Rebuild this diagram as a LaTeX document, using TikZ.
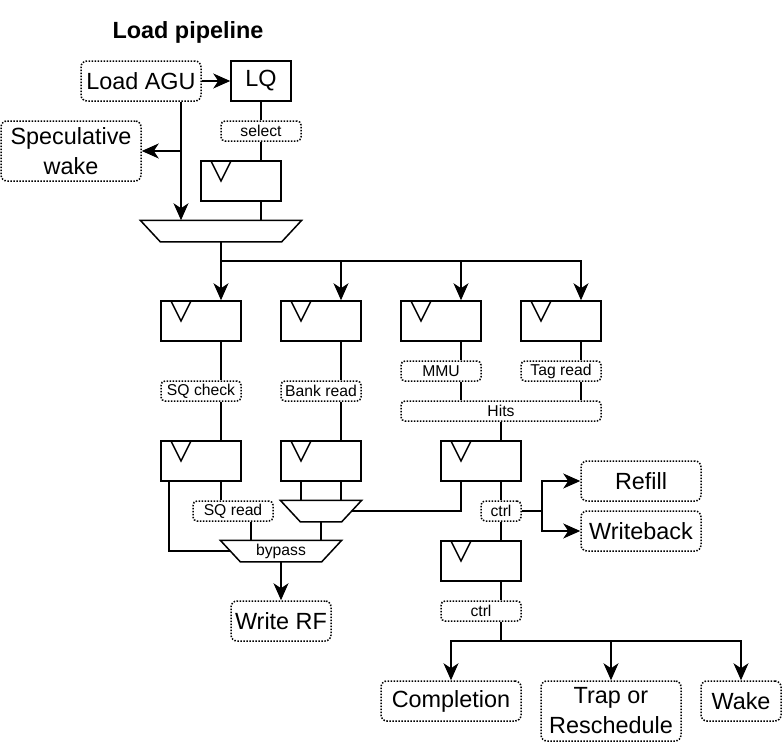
\documentclass[tikz,border=0pt]{standalone}
\usepackage{fontspec}
\setmainfont{Liberation Sans}
\usetikzlibrary{arrows.meta}
\newcommand{\bigtxt}{\fontsize{23.4}{30}\selectfont}
\newcommand{\smalltxt}{\fontsize{15.7}{18}\selectfont}
\begin{document}
\begin{tikzpicture}[
	x=1pt, y=-1pt, line width=1.5pt,
	reg/.style={ draw, inner sep=0pt, minimum width=80, minimum height=40,
		path picture={\draw ([xshift=10pt]path picture bounding box.north west) -- ([xshift=20pt,yshift=-20pt]path picture bounding box.north west) -- ([xshift=30pt]path picture bounding box.north west);} },
	unit/.style={ draw, dash pattern=on 1.5pt off 1.5pt, rounded corners=6pt, inner sep=0pt, minimum height=40, font=\bigtxt, align=center },
	sig/.style={ draw, dash pattern=on 1.5pt off 1.5pt, rounded corners=4pt, inner sep=0pt, minimum width=80, minimum height=20, font=\smalltxt },
	mux/.style={ inner sep=0pt, minimum height=20, font=\smalltxt },
	arr/.style={ -{Stealth[length=17pt,width=15pt,inset=5pt]} }
]
\useasboundingbox (0,0) rectangle (782,742);

\node[font=\bigtxt\bfseries] at (188,32) (title) {Load pipeline};

\node[unit, minimum width=120] at (141,81) (agu) {Load AGU};
\node[draw, inner sep=0pt, minimum width=60, minimum height=40, font=\bigtxt] at (261,81) (lq) {LQ};
\node[unit, minimum width=140, minimum height=60] at (71,151) (spec) {Speculative\\wake};
\node[sig] at (261,131) (sel) {select};
\node[reg] at (241,181) (r0) {};
\node[mux, minimum width=160] at (221,231) (mux1) {};

\node[reg] at (201,321) (rA) {};
\node[reg] at (321,321) (rB) {};
\node[reg] at (441,321) (rC) {};
\node[reg] at (561,321) (rD) {};

\node[sig] at (201,391) (sqc) {SQ check};
\node[sig] at (321,391) (bank) {Bank read};
\node[sig] at (441,371) (mmu) {MMU};
\node[sig] at (561,371) (tagrd) {Tag read};
\node[sig, minimum width=200] at (501,411) (hits) {Hits};

\node[reg] at (201,461) (rE) {};
\node[reg] at (321,461) (rF) {};
\node[reg] at (481,461) (rG) {};

\node[sig] at (233,511) (sqr) {SQ read};
\node[mux, minimum width=80] at (321,511) (mux2) {};
\node[mux, minimum width=120] at (281,551) (bypass) {bypass};
\node[unit, minimum width=100] at (281,621) (wrf) {Write RF};

\node[sig, minimum width=40] at (501,511) (ctrl1) {ctrl};
\node[unit, minimum width=120] at (641,481) (refill) {Refill};
\node[unit, minimum width=120] at (641,531) (wb) {Writeback};
\node[reg] at (481,561) (rH) {};
\node[sig] at (481,611) (ctrl2) {ctrl};

\node[unit, minimum width=140] at (451,701) (compl) {Completion};
\node[unit, minimum width=140, minimum height=60] at (611,711) (trap) {Trap or\\Reschedule};
\node[unit, minimum width=80] at (741,701) (wake) {Wake};

\foreach \m in {mux1,mux2,bypass}
	\draw (\m.north west) -- (\m.north east) -- ([xshift=-20]\m.south east) -- ([xshift=20]\m.south west) -- cycle;

\coordinate (aguout) at ([xshift=40]agu.south);
\coordinate (specfork) at (aguout |- spec.east);
\coordinate (fan) at (221,261);
\coordinate (wbfork) at ([xshift=20]ctrl1.east);
\coordinate (done) at (501,641);

\draw[arr] (agu) -- (lq);
\draw (lq) -- (sel);
\draw (sel) -- ([xshift=20]r0.north);
\draw ([xshift=20]r0.south) -- ([xshift=40]mux1.north);
\draw[arr] (aguout) -- ([xshift=-40]mux1.north);
\draw[arr] (specfork) -- (spec);

\draw (mux1.south) -- (fan);
\draw[arr] (fan) -- ([xshift=20]rA.north);
\draw[arr] (fan) -| ([xshift=20]rB.north);
\draw[arr] (fan) -| ([xshift=20]rC.north);
\draw[arr] (fan) -| ([xshift=20]rD.north);

\draw ([xshift=20]rA.south) -- ([xshift=20]sqc.north);
\draw ([xshift=20]sqc.south) -- ([xshift=20]rE.north);
\draw ([xshift=20]rB.south) -- ([xshift=20]bank.north);
\draw ([xshift=20]bank.south) -- ([xshift=20]rF.north);
\draw ([xshift=20]rC.south) -- ([xshift=20]mmu.north);
\draw ([xshift=20]mmu.south) -- ([xshift=-40]hits.north);
\draw ([xshift=20]rD.south) -- ([xshift=20]tagrd.north);
\draw ([xshift=20]tagrd.south) -- ([xshift=80]hits.north);
\draw (hits.south) -- (hits.south |- rG.north);

\draw ([xshift=-32]rE.south) |- ([xshift=10]bypass.west);
\draw ([xshift=20]rE.south) -- ([xshift=-12]sqr.north);
\draw ([xshift=18]sqr.south) -- ([xshift=-30]bypass.north);
\draw ([xshift=-20]rF.south) -- ([xshift=-20]mux2.north);
\draw ([xshift=20]rF.south) -- ([xshift=20]mux2.north);
\draw (mux2.south) -- ([xshift=40]bypass.north);
\draw ([xshift=-20]rG.south) |- ([xshift=-10]mux2.east);
\draw[arr] (bypass.south) -- (wrf);

\draw ([xshift=20]rG.south) -- (ctrl1);
\draw (ctrl1) -- ([xshift=20]rH.north);
\draw (ctrl1) -- (wbfork);
\draw[arr] (wbfork) |- (refill);
\draw[arr] (wbfork) |- (wb);

\draw ([xshift=20]rH.south) -- ([xshift=20]ctrl2.north);
\draw ([xshift=20]ctrl2.south) -- (done);
\draw[arr] (done) -| (compl);
\draw[arr] (done) -| (trap);
\draw[arr] (done) -| (wake);

\end{tikzpicture}
\end{document}
